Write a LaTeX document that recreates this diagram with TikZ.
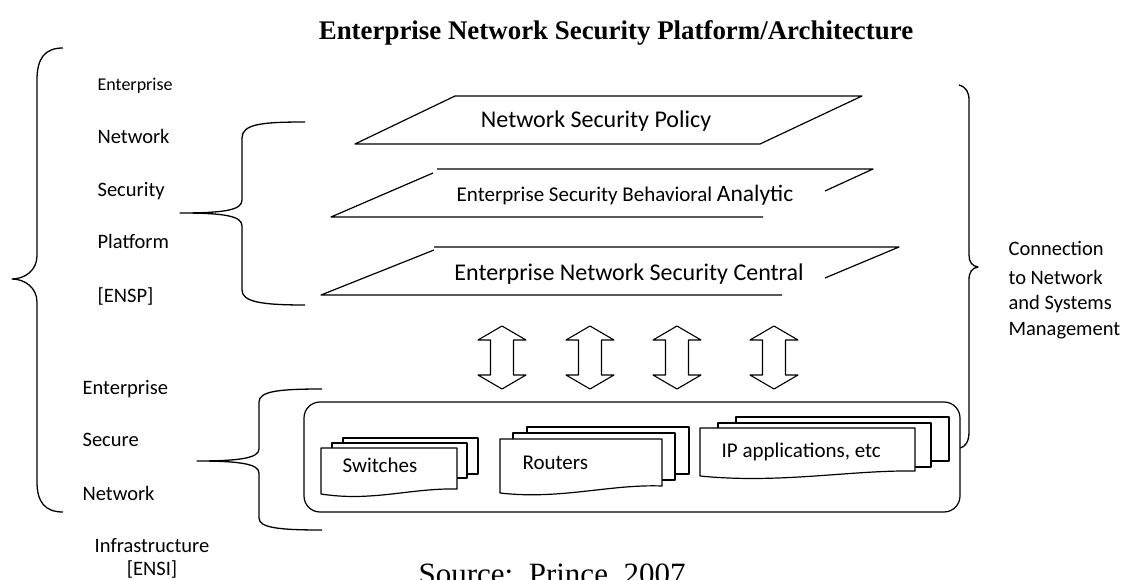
\documentclass[tikz,border=0pt]{standalone}
\usepackage{fontspec}
\setmainfont{Carlito}
\newfontfamily\timesfont{Liberation Serif}
\begin{document}
\begin{tikzpicture}[x=1pt,y=-1pt,line width=1.2pt,line join=round,
  lbl/.style={inner sep=0pt,anchor=base west,font=\fontsize{20.5}{24}\selectfont},
  lblc/.style={inner sep=0pt,anchor=base,font=\fontsize{20.5}{24}\selectfont},
  layertext/.style={inner sep=0pt,anchor=base,font=\fontsize{24}{28}\selectfont},
  doctext/.style={inner sep=0pt,anchor=base west,font=\fontsize{21}{24}\selectfont},
  brace/.style={draw,line width=1.3pt},
  layer/.style={draw,line width=1.2pt},
  blockarrow/.style={draw,fill=white,line width=1.1pt},
  docpage/.style={draw,fill=white,line width=1.2pt}]
\useasboundingbox (0,0) rectangle (1130,580);

% title
\node[inner sep=0pt,anchor=base,font=\timesfont\bfseries\fontsize{26.9}{30}\selectfont] (title) at (616,40) {Enterprise Network Security Platform/Architecture};

% big left brace
\draw[brace] (63,48) .. controls (45,48) and (37,58) .. (37,80) -- (37,256)
  .. controls (37,270) and (25,279) .. (12,279)
  .. controls (25,279) and (37,288) .. (37,302) -- (37,482)
  .. controls (37,502) and (45,512) .. (63,512);

% left labels
\node[lbl,font=\fontsize{18}{22}\selectfont] (l1) at (97,91) {Enterprise};
\node[lbl] (l2) at (97,144) {Network};
\node[lbl] (l3) at (97,197) {Security};
\node[lbl] (l4) at (97,249) {Platform};
\node[lbl] (l5) at (97,302) {[ENSP]};

\node[lbl] (m1) at (82,394) {Enterprise};
\node[lbl] (m2) at (82,446) {Secure};
\node[lbl] (m3) at (82,500) {Network};
\node[lblc] (m4) at (152,552) {Infrastructure};
\node[lblc] (m5) at (152,575) {[ENSI]};

% inner brace ENSP
\draw[brace] (305,122) .. controls (262,122) and (242,124) .. (242,138) -- (242,200)
  .. controls (242,210) and (225,213) .. (180,213)
  .. controls (225,213) and (242,216) .. (242,226) -- (242,290)
  .. controls (242,302) and (262,305) .. (305,305);

% inner brace ENSI
\draw[brace] (322,389) .. controls (280,389) and (259,391) .. (259,402) -- (259,449)
  .. controls (259,458) and (240,461) .. (197,461)
  .. controls (240,461) and (259,464) .. (259,473) -- (259,518)
  .. controls (259,528) and (280,530) .. (322,530);

% right brace
\draw[brace] (959,85) .. controls (966,87) and (969,92) .. (969,100) -- (969,255)
  .. controls (969,262) and (972,266) .. (978,267)
  .. controls (972,268) and (969,272) .. (969,280) -- (969,432)
  .. controls (969,442) and (965,447) .. (960,448);

\node[lbl] (r1) at (1008,255) {Connection};
\node[lbl] (r2) at (1008,284) {to Network};
\node[lbl] (r3) at (1008,309) {and Systems};
\node[lbl] (r4) at (1008,335) {Management};

% layer 1
\draw[layer] (455,96) -- (862,96) -- (760,144) -- (355,144) -- cycle;
\node[layertext] (p1) at (596,128) {Network Security Policy};

% layer 2 (broken)
\draw[layer] (437,169) -- (873,169) -- (825,191);
\draw[layer] (433,173) -- (331,217) -- (763,217);
\node[layertext] (p2) at (625,202) {\fontsize{21}{24}\selectfont Enterprise Security Behavioral \fontsize{23.5}{26}\selectfont Analytic};

% layer 3 (broken)
\draw[layer] (434,247) -- (899,247) -- (825,278);
\draw[layer] (434,250) -- (321,295) -- (782,295);
\node[layertext] (p3) at (629,280) {Enterprise Network Security Central};

% double arrows
\foreach \cx in {502,590,677,774}{
  \draw[blockarrow] (\cx,326) -- (\cx+24,340) -- (\cx+11.5,340) -- (\cx+11.5,375) -- (\cx+24,375)
    -- (\cx,389) -- (\cx-24,375) -- (\cx-11.5,375) -- (\cx-11.5,340) -- (\cx-24,340) -- cycle;
}

% infrastructure box
\draw[rounded corners=16pt,line width=1.2pt] (304,402) rectangle (960,512);

% Switches stack
\draw[docpage] (343,438) rectangle (478,474);
\draw[docpage] (332,443) rectangle (467,478);
\draw[docpage] (321,448) -- (457,448) -- (457,489) .. controls (410,488) and (372,502) .. (321,494) -- cycle;
\node[doctext] (sw) at (342,472) {Switches};

% Routers stack
\draw[docpage] (527,427) rectangle (689,474);
\draw[docpage] (513,433) rectangle (675,480);
\draw[docpage] (500,439) -- (662,439) -- (662,486) .. controls (610,484) and (560,500) .. (500,493) -- cycle;
\node[doctext] (ro) at (522,469) {Routers};

% IP applications stack
\draw[docpage] (736,417) rectangle (949,461);
\draw[docpage] (718,423) rectangle (931,467);
\draw[docpage] (700,428) -- (915,428) -- (915,471) .. controls (850,470) and (780,484) .. (700,476) -- cycle;
\node[doctext] (ip) at (721,457) {IP applications, etc};

% source
\node[inner sep=0pt,anchor=base west,font=\timesfont\fontsize{31}{34}\selectfont] (src) at (418,584) {Source:\ \ Prince, 2007};
\end{tikzpicture}
\end{document}
